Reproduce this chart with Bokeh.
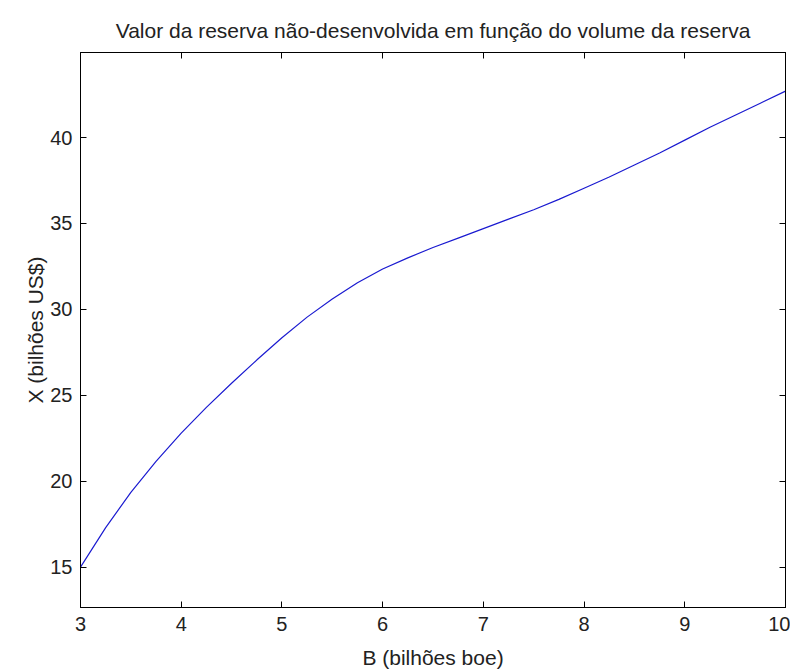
from bokeh.plotting import figure
from bokeh.models import LinearAxis, Range1d, FixedTicker
from bokeh.embed import file_html
from bokeh.resources import INLINE

# Data
b_values = [3.0, 3.25, 3.5, 3.75, 4.0, 4.25, 4.5, 4.75, 5.0, 5.25, 5.5, 5.75,
            6.0, 6.25, 6.5, 6.75, 7.0, 7.25, 7.5, 7.75, 8.0, 8.25, 8.5, 8.75,
            9.0, 9.25, 9.5, 9.75, 10.0]
x_values = [15.0, 17.3, 19.35, 21.15, 22.8, 24.3, 25.7, 27.05, 28.35, 29.55, 30.6, 31.55,
            32.35, 33.0, 33.6, 34.15, 34.7, 35.25, 35.8, 36.4, 37.05, 37.7, 38.4, 39.1,
            39.85, 40.6, 41.3, 42.0, 42.7]
x_ticks = [3, 4, 5, 6, 7, 8, 9, 10]
y_ticks = [15, 20, 25, 30, 35, 40]

title_text = "Valor da reserva não-desenvolvida em função do volume da reserva"
x_label = "B (bilhões boe)"
y_label = "X (bilhões US$)"

FONT = "Liberation Sans"
TXT = "#222222"

p = figure(width=790, height=671, output_backend="svg", toolbar_location=None,
           x_range=Range1d(3, 10), y_range=Range1d(12.65, 44.95),
           x_axis_label=x_label, y_axis_label=y_label,
           min_border_left=80, min_border_right=5, min_border_top=52, min_border_bottom=63)

p.title.text = title_text
p.title.align = "center"
p.title.text_font = FONT
p.title.text_font_size = "21px"
p.title.text_font_style = "normal"
p.title.text_color = TXT
p.title.offset = 0
p.title.standoff = 22
p.title.text_line_height = 0.6

p.line(b_values, x_values, line_color="#1a1ad0", line_width=1.2)

p.grid.visible = False
p.outline_line_color = "black"
p.outline_line_width = 1
p.background_fill_color = "white"
p.border_fill_color = "white"

for ax, ticks in ((p.xaxis[0], x_ticks), (p.yaxis[0], y_ticks)):
    ax.ticker = FixedTicker(ticks=ticks)
    ax.major_tick_in = 6
    ax.major_tick_out = 0
    ax.minor_tick_in = 0
    ax.minor_tick_out = 0
    ax.axis_line_color = "black"
    ax.major_tick_line_color = "black"
    ax.major_label_text_font = FONT
    ax.major_label_text_font_size = "20px"
    ax.major_label_text_color = TXT
    ax.axis_label_text_font = FONT
    ax.axis_label_text_font_size = "21px"
    ax.axis_label_text_font_style = "normal"
    ax.axis_label_text_color = TXT

p.xaxis[0].major_label_standoff = 9
p.xaxis[0].axis_label_standoff = 12
p.yaxis[0].major_label_standoff = 8
p.yaxis[0].axis_label_standoff = 0

# Mirror ticks on top and right (box on)
top = LinearAxis(ticker=FixedTicker(ticks=x_ticks), major_tick_in=6, major_tick_out=0,
                 minor_tick_in=0, minor_tick_out=0, major_label_text_font_size="0px",
                 major_label_standoff=0,
                 axis_line_color="black", major_tick_line_color="black")
right = LinearAxis(ticker=FixedTicker(ticks=y_ticks), major_tick_in=6, major_tick_out=0,
                   minor_tick_in=0, minor_tick_out=0, major_label_text_font_size="0px",
                   major_label_standoff=0,
                   axis_line_color="black", major_tick_line_color="black")
top.major_label_text_alpha = 0
right.major_label_text_alpha = 0
p.add_layout(top, "above")
p.add_layout(right, "right")

open("out.html", "w").write(file_html(p, INLINE))
